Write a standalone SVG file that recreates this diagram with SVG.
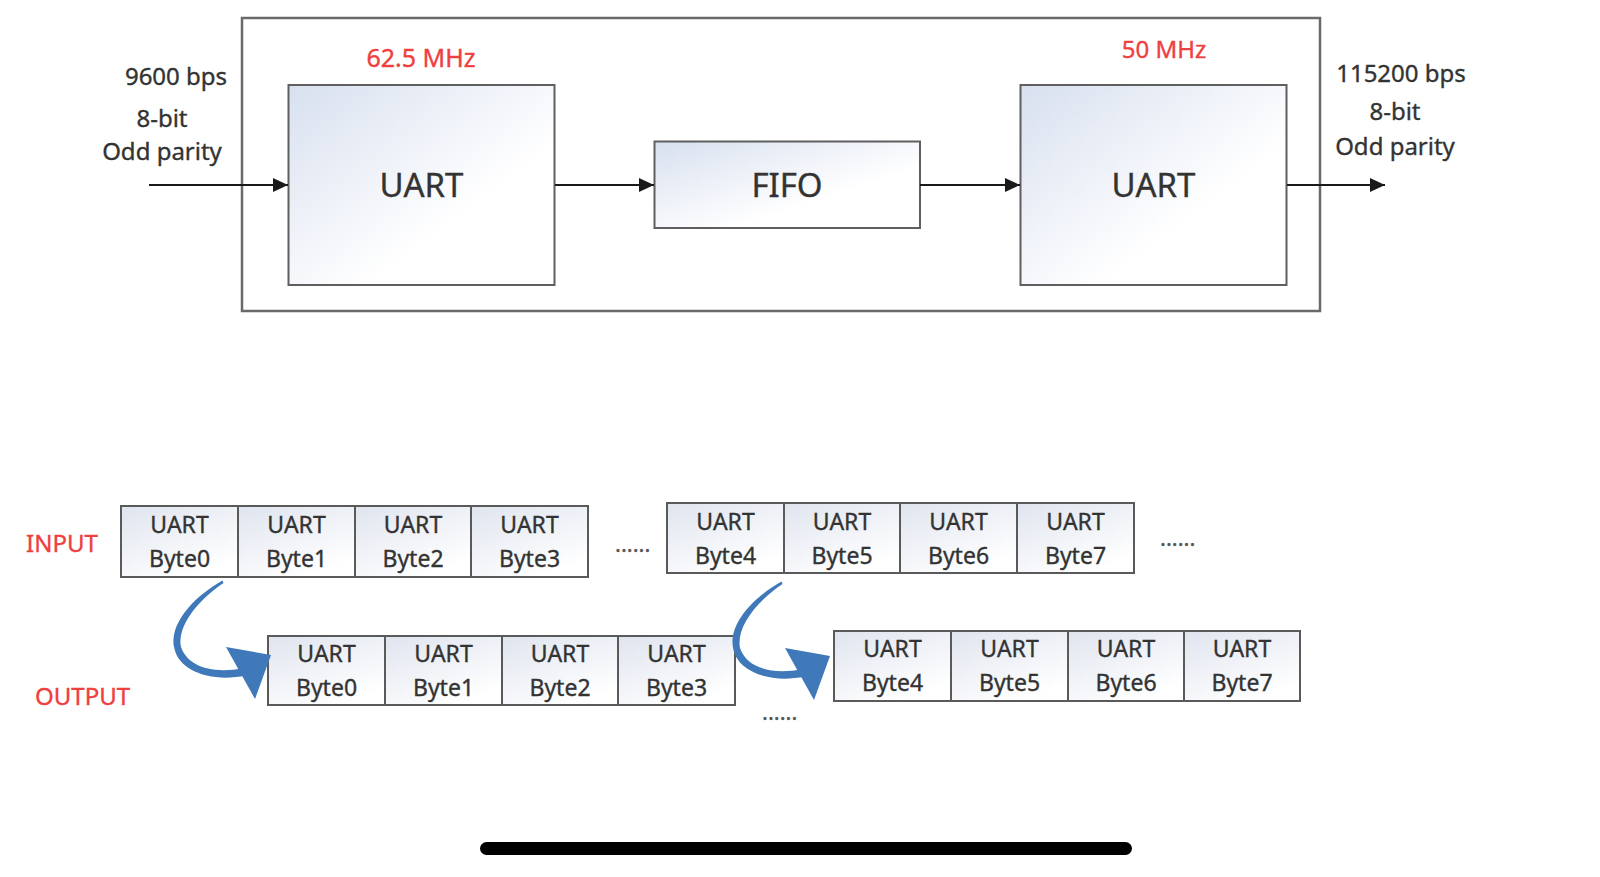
<svg xmlns="http://www.w3.org/2000/svg" width="1600" height="877" viewBox="0 0 1600 877">
<defs>
<linearGradient id="gBig" x1="0" y1="0" x2="1" y2="1">
<stop offset="0" stop-color="#d8e0ef"/>
<stop offset="0.65" stop-color="#ffffff"/>
</linearGradient>
<linearGradient id="gCell" x1="0" y1="0" x2="0.6" y2="1">
<stop offset="0" stop-color="#dfe4ee"/>
<stop offset="1" stop-color="#ffffff"/>
</linearGradient>
<marker id="ah" markerUnits="userSpaceOnUse" markerWidth="16" markerHeight="14" refX="15" refY="7" orient="auto">
<path d="M0,0 L15,7 L0,14 z" fill="#1a1a1a"/>
</marker>
<g id="curveArrow">
<path d="M222.5,580.5 C193,597 168,625 174.5,649 C179,670 210,683 246,675.5 L244,668 C211,674.5 187.5,666 181,647 C177,626 198,600 223.5,583 Z" fill="#3f79b9"/>
<polygon points="226,647 271,655 255,699" fill="#3f79b9"/>
</g>
</defs>
<style>
text{font-family:"Noto Sans","Open Sans","Liberation Sans",sans-serif;fill:#333333;stroke:#333333;stroke-width:0.35}
.lbl{font-size:24px}
.red{fill:#ef4040;stroke:#ef4040}
.big{font-size:33px;text-anchor:middle}
.cell rect{fill:url(#gCell);stroke:#5a5a5a;stroke-width:2}
.cell text{font-size:23px;text-anchor:middle}
.box{fill:url(#gBig);stroke:#5f5f5f;stroke-width:2}
.conn{stroke:#1a1a1a;stroke-width:2.2;fill:none;marker-end:url(#ah)}
.dots{font-size:22px;fill:#555;stroke:#555}
</style>
<rect width="1600" height="877" fill="#ffffff"/>

<g id="outer">
<rect x="242" y="18" width="1078" height="293" fill="none" stroke="#6a6a6a" stroke-width="2.5"/>
</g>

<g id="labels-top">
<text class="lbl" x="176" y="85" text-anchor="middle">9600 bps</text>
<text class="lbl" x="162" y="127" text-anchor="middle">8-bit</text>
<text class="lbl" x="162" y="160" text-anchor="middle">Odd parity</text>
<text class="lbl red" x="421" y="67" text-anchor="middle" style="font-size:25px">62.5 MHz</text>
<text class="lbl red" x="1164" y="58" text-anchor="middle">50 MHz</text>
<text class="lbl" x="1401" y="82" text-anchor="middle">115200 bps</text>
<text class="lbl" x="1395" y="120" text-anchor="middle">8-bit</text>
<text class="lbl" x="1395" y="155" text-anchor="middle">Odd parity</text>
</g>

<g id="uart1">
<rect class="box" x="288.5" y="85" width="266" height="200"/>
<text class="big" x="421.5" y="197">UART</text>
</g>
<g id="fifo">
<rect class="box" x="654.5" y="141.5" width="265.5" height="86.5"/>
<text class="big" x="787" y="197">FIFO</text>
</g>
<g id="uart2">
<rect class="box" x="1020.5" y="85" width="266" height="200"/>
<text class="big" x="1153.5" y="197">UART</text>
</g>

<g id="connectors">
<line class="conn" x1="149" y1="185" x2="288" y2="185"/>
<line class="conn" x1="555" y1="185" x2="654" y2="185"/>
<line class="conn" x1="920" y1="185" x2="1020" y2="185"/>
<line class="conn" x1="1287" y1="185" x2="1385" y2="185"/>
</g>

<g id="labels-bottom">
<text class="lbl red" x="26" y="552">INPUT</text>
<text class="lbl red" x="35" y="705">OUTPUT</text>
<text class="dots" x="615" y="552">......</text>
<text class="dots" x="1160" y="546">......</text>
<text class="dots" x="762" y="720">......</text>
</g>

<g id="input-row1" class="cell">
<rect x="121" y="506" width="117" height="71"/><text x="179.5" y="533">UART</text><text x="179.5" y="567">Byte0</text>
<rect x="238" y="506" width="117" height="71"/><text x="296.5" y="533">UART</text><text x="296.5" y="567">Byte1</text>
<rect x="355" y="506" width="116" height="71"/><text x="413" y="533">UART</text><text x="413" y="567">Byte2</text>
<rect x="471" y="506" width="117" height="71"/><text x="529.5" y="533">UART</text><text x="529.5" y="567">Byte3</text>
</g>

<g id="input-row2" class="cell">
<rect x="667" y="503" width="117" height="70"/><text x="725.5" y="530">UART</text><text x="725.5" y="564">Byte4</text>
<rect x="784" y="503" width="116" height="70"/><text x="842" y="530">UART</text><text x="842" y="564">Byte5</text>
<rect x="900" y="503" width="117" height="70"/><text x="958.5" y="530">UART</text><text x="958.5" y="564">Byte6</text>
<rect x="1017" y="503" width="117" height="70"/><text x="1075.5" y="530">UART</text><text x="1075.5" y="564">Byte7</text>
</g>

<g id="output-row1" class="cell">
<rect x="268" y="636" width="117" height="69"/><text x="326.5" y="662">UART</text><text x="326.5" y="696">Byte0</text>
<rect x="385" y="636" width="117" height="69"/><text x="443.5" y="662">UART</text><text x="443.5" y="696">Byte1</text>
<rect x="502" y="636" width="116" height="69"/><text x="560" y="662">UART</text><text x="560" y="696">Byte2</text>
<rect x="618" y="636" width="117" height="69"/><text x="676.5" y="662">UART</text><text x="676.5" y="696">Byte3</text>
</g>

<g id="output-row2" class="cell">
<rect x="834" y="631" width="117" height="70"/><text x="892.5" y="657">UART</text><text x="892.5" y="691">Byte4</text>
<rect x="951" y="631" width="117" height="70"/><text x="1009.5" y="657">UART</text><text x="1009.5" y="691">Byte5</text>
<rect x="1068" y="631" width="116" height="70"/><text x="1126" y="657">UART</text><text x="1126" y="691">Byte6</text>
<rect x="1184" y="631" width="116" height="70"/><text x="1242" y="657">UART</text><text x="1242" y="691">Byte7</text>
</g>

<g id="flow-arrows">
<use href="#curveArrow"/>
<use href="#curveArrow" transform="translate(559,1)"/>
</g>

<g id="home-bar">
<rect x="480" y="842" width="652" height="13" rx="6.5" fill="#000000"/>
</g>
</svg>
